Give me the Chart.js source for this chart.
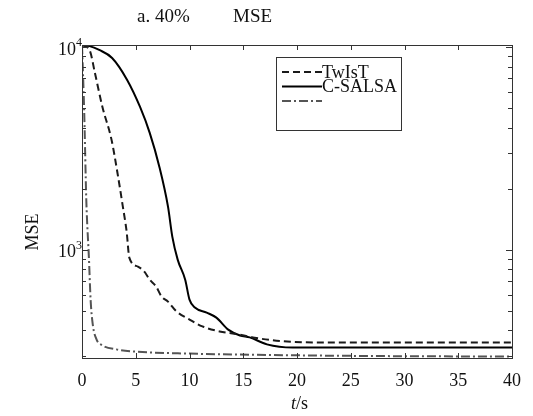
<!DOCTYPE html>
<html>
<head>
<meta charset="utf-8">
<script src="https://cdn.jsdelivr.net/npm/chart.js@4"></script>
<style>
  body { margin: 0; background: #fff; }
</style>
</head>
<body>
<canvas id="myChart" width="533" height="416"></canvas>
<script>
// TwIsT (dashed)
const tTwist = [0, 0.7, 1.2, 1.9, 2.75, 3.3, 3.8, 4.15, 4.4, 5.2, 5.8, 6.3, 6.9, 7.4, 8.0, 8.8, 10.0, 11.2, 12.8, 14.7, 15.9, 18.7, 23.3, 30, 40];
const mseTwist = [10200, 9670, 7450, 5060, 3480, 2390, 1630, 1230, 914, 825, 779, 711, 657, 587, 554, 495, 452, 418, 395, 381, 369, 353, 348, 348, 348];

// C-SALSA (solid)
const tSalsa = [0, 0.7, 1.6, 2.8, 4.2, 5.4, 6.3, 7.2, 8.0, 8.4, 8.9, 9.6, 10.0, 10.5, 11.6, 12.5, 13.6, 14.7, 15.6, 17.2, 19.6, 23.3, 30, 40];
const mseSalsa = [10200, 10100, 9670, 8830, 6880, 5060, 3770, 2560, 1630, 1160, 893, 711, 567, 518, 489, 462, 403, 377, 369, 341, 329, 329, 329, 329];

// third method (dash-dot)
const tThird = [0, 0.2, 0.4, 0.65, 0.8, 1.0, 1.35, 1.9, 3.2, 5, 10, 20, 30, 40];
const mseThird = [10200, 4900, 1760, 893, 567, 428, 361, 337, 322, 314, 307, 301, 298, 297];

const xTicks = [0, 5, 10, 15, 20, 25, 30, 35, 40];
const yPowers = [1000, 10000];

const serif = "'Liberation Serif', 'Times New Roman', serif";

function pts(t, v) {
  return t.map((x, i) => ({ x: x, y: v[i] }));
}

// box, inner ticks, log labels, titles and legend
const frame = {
  id: 'frame',
  afterDraw(chart) {
    const ctx = chart.ctx;
    const a = chart.chartArea;
    const x = chart.scales.x, y = chart.scales.y;
    ctx.save();
    ctx.strokeStyle = '#333';
    ctx.lineWidth = 1;
    const line = (x1, y1, x2, y2) => { ctx.beginPath(); ctx.moveTo(x1, y1); ctx.lineTo(x2, y2); ctx.stroke(); };
    ctx.strokeRect(Math.round(a.left) + 0.5, Math.round(a.top) + 0.5, Math.round(a.width), Math.round(a.height));

    xTicks.forEach(v => {
      const px = Math.round(x.getPixelForValue(v)) + 0.5;
      line(px, a.bottom, px, a.bottom - 5);
      line(px, a.top, px, a.top + 5);
    });
    for (let e = 2; e <= 4; e++) {
      for (let m = 1; m <= 9; m++) {
        const v = m * Math.pow(10, e);
        if (v < y.min || v > y.max) continue;
        const py = Math.round(y.getPixelForValue(v)) + 0.5;
        const len = m === 1 ? 6 : 4;
        line(a.left, py, a.left + len, py);
        line(a.right, py, a.right - len, py);
      }
    }

    ctx.fillStyle = '#111';
    ctx.textBaseline = 'middle';
    yPowers.forEach(v => {
      const py = y.getPixelForValue(v);
      ctx.font = '18px ' + serif;
      ctx.textAlign = 'right';
      ctx.fillText('10', a.left - 6, py + 3);
      ctx.font = '12px ' + serif;
      ctx.textAlign = 'left';
      ctx.fillText(String(Math.round(Math.log10(v))), a.left - 6, py - 4);
    });

    // chart title
    ctx.font = '19px ' + serif;
    ctx.textAlign = 'left';
    ctx.fillText('a. 40%', 137, 17);
    ctx.fillText('MSE', 233, 17);

    // x axis title
    const tx = (a.left + a.right) / 2;
    ctx.font = 'italic 18px ' + serif;
    ctx.textAlign = 'right';
    ctx.fillText('t', tx - 1, 404);
    ctx.font = '18px ' + serif;
    ctx.textAlign = 'left';
    ctx.fillText('/s', tx - 1, 404);

    // y axis title
    ctx.save();
    ctx.translate(33, 232);
    ctx.rotate(-Math.PI / 2);
    ctx.textAlign = 'center';
    ctx.fillText('MSE', 0, 0);
    ctx.restore();

    // legend
    const lx = 276, ly = 57, lw = 125, lh = 73;
    ctx.fillStyle = '#fff';
    ctx.fillRect(lx, ly, lw, lh);
    ctx.strokeStyle = '#333';
    ctx.lineWidth = 1;
    ctx.strokeRect(lx + 0.5, ly + 0.5, lw, lh);
    chart.data.datasets.forEach((ds, i) => {
      const yy = ly + 15 + i * 14.5;
      ctx.strokeStyle = ds.borderColor;
      ctx.lineWidth = ds.borderWidth;
      ctx.setLineDash(ds.borderDash || []);
      line(lx + 6, yy, lx + 46, yy);
      ctx.setLineDash([]);
      ctx.fillStyle = '#111';
      ctx.font = '18px ' + serif;
      ctx.textAlign = 'left';
      ctx.fillText(ds.label, lx + 46, yy + 1);
    });
    ctx.restore();
  }
};

new Chart(document.getElementById('myChart').getContext('2d'), {
  type: 'line',
  data: {
    datasets: [{
      label: 'TwIsT',
      data: pts(tTwist, mseTwist),
      borderColor: '#1a1a1a',
      borderWidth: 2,
      borderDash: [7, 4],
      pointRadius: 0,
      cubicInterpolationMode: 'monotone',
      fill: false
    }, {
      label: 'C-SALSA',
      data: pts(tSalsa, mseSalsa),
      borderColor: '#000',
      borderWidth: 2,
      pointRadius: 0,
      cubicInterpolationMode: 'monotone',
      fill: false
    }, {
      label: '',
      data: pts(tThird, mseThird),
      borderColor: '#555',
      borderWidth: 2,
      borderDash: [9, 3, 2, 3],
      pointRadius: 0,
      cubicInterpolationMode: 'monotone',
      fill: false
    }]
  },
  options: {
    responsive: false,
    animation: false,
    devicePixelRatio: 1,
    layout: { padding: { left: 0, right: 21, top: 45, bottom: 0 } },
    plugins: {
      legend: { display: false },
      title: { display: false },
      tooltip: { enabled: false }
    },
    scales: {
      x: {
        type: 'linear',
        min: 0,
        max: 40,
        afterFit(s) { s.height = 58; },
        afterBuildTicks(s) { s.ticks = xTicks.map(v => ({ value: v })); },
        grid: { display: false, drawTicks: false },
        border: { display: false },
        ticks: { padding: 12, color: '#111', font: { family: serif, size: 18 } }
      },
      y: {
        type: 'logarithmic',
        min: 292,
        max: 10230,
        afterFit(s) { s.width = 82; },
        grid: { display: false, drawTicks: false },
        border: { display: false },
        ticks: { display: false }
      }
    }
  },
  plugins: [frame]
});
</script>
</body>
</html>
